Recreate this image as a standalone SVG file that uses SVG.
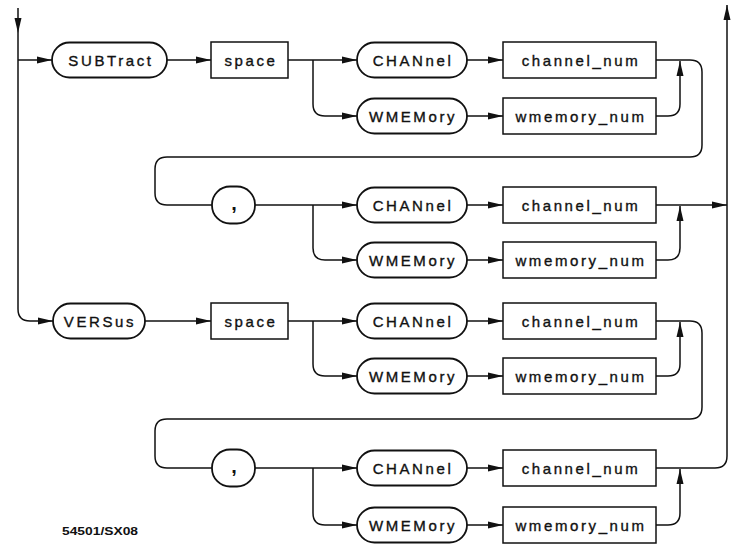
<svg xmlns="http://www.w3.org/2000/svg" width="739" height="544" viewBox="0 0 739 544">
<style>
.bg{fill:#fff}
.ov{fill:#fff;stroke:#111;stroke-width:1.8}
.bx{fill:#fff;stroke:#111;stroke-width:1.5}
.t{font-family:"Liberation Sans",Arial,sans-serif;font-size:15px;letter-spacing:2.6px;fill:#111;stroke:#111;stroke-width:0.35;text-anchor:middle;dominant-baseline:central}
.cm{font-family:"Liberation Sans",Arial,sans-serif;font-size:20px;font-weight:bold;fill:#111;text-anchor:middle}
.c{fill:none;stroke:#111;stroke-width:1.5}
.lbl{font-family:"Liberation Sans",Arial,sans-serif;font-size:11px;font-weight:bold;fill:#111}
</style>
<defs>
<marker id="ah" markerWidth="15" markerHeight="9" refX="15" refY="4.5" orient="auto" markerUnits="userSpaceOnUse">
<path d="M0,1 L15,4.5 L0,8 Z" fill="#111"/>
</marker>
</defs>
<rect class="bg" x="0" y="0" width="739" height="544"/>

<g id="connectors">
<path class="c" d="M18,8 V33" marker-end="url(#ah)"/>
<path class="c" d="M18,33 V309 Q18,321 30,321 H53" marker-end="url(#ah)"/>
<path class="c" d="M18,60 H52" marker-end="url(#ah)"/>
<!-- row 1 -->
<path class="c" d="M167,60 H211" marker-end="url(#ah)"/>
<path class="c" d="M288,60 H357" marker-end="url(#ah)"/>
<path class="c" d="M313,60 V104 Q313,116 325,116 H357" marker-end="url(#ah)"/>
<path class="c" d="M467,60 H503" marker-end="url(#ah)"/>
<path class="c" d="M467,116 H503" marker-end="url(#ah)"/>
<path class="c" d="M656,116 H668 Q680,116 680,104 V61" marker-end="url(#ah)"/>
<path class="c" d="M656,60 H690 Q702,60 702,72 V145 Q702,157 690,157 H167 Q155,157 155,169 V193 Q155,205 167,205 H212"/>
<!-- row 2 -->
<path class="c" d="M255,205 H357" marker-end="url(#ah)"/>
<path class="c" d="M313,205 V248 Q313,260 325,260 H357" marker-end="url(#ah)"/>
<path class="c" d="M467,205 H503" marker-end="url(#ah)"/>
<path class="c" d="M467,260 H503" marker-end="url(#ah)"/>
<path class="c" d="M656,260 H668 Q680,260 680,248 V206" marker-end="url(#ah)"/>
<path class="c" d="M656,205 H727" marker-end="url(#ah)"/>
<!-- row 3 -->
<path class="c" d="M145,321 H211" marker-end="url(#ah)"/>
<path class="c" d="M288,321 H357" marker-end="url(#ah)"/>
<path class="c" d="M313,321 V364 Q313,376 325,376 H357" marker-end="url(#ah)"/>
<path class="c" d="M467,321 H503" marker-end="url(#ah)"/>
<path class="c" d="M467,376 H503" marker-end="url(#ah)"/>
<path class="c" d="M656,376 H668 Q680,376 680,364 V322" marker-end="url(#ah)"/>
<path class="c" d="M656,321 H690 Q702,321 702,333 V407 Q702,419 690,419 H167 Q155,419 155,431 V456 Q155,468 167,468 H212"/>
<!-- row 4 -->
<path class="c" d="M255,468 H357" marker-end="url(#ah)"/>
<path class="c" d="M313,468 V513 Q313,525 325,525 H357" marker-end="url(#ah)"/>
<path class="c" d="M467,468 H503" marker-end="url(#ah)"/>
<path class="c" d="M467,525 H503" marker-end="url(#ah)"/>
<path class="c" d="M656,525 H668 Q680,525 680,513 V469" marker-end="url(#ah)"/>
<path class="c" d="M656,468 H715 Q727,468 727,456 V5" marker-end="url(#ah)"/>
</g>

<g id="n-subtract"><rect class="ov" x="52" y="42.5" width="115" height="35" rx="17.5"/><text class="t" x="111" y="60">SUBTract</text></g>
<g id="n-space1"><rect class="bx" x="211" y="42" width="77" height="36"/><text class="t" x="251" y="60">space</text></g>
<g id="n-chan1"><rect class="ov" x="357" y="42.5" width="110" height="35" rx="17.5"/><text class="t" x="413" y="60">CHANnel</text></g>
<g id="n-chnum1"><rect class="bx" x="503" y="42" width="153" height="36"/><text class="t" x="581" y="60">channel_num</text></g>
<g id="n-wmem1"><rect class="ov" x="357" y="98.5" width="110" height="35" rx="17.5"/><text class="t" x="413" y="116">WMEMory</text></g>
<g id="n-wmnum1"><rect class="bx" x="503" y="98" width="153" height="36"/><text class="t" x="581" y="116">wmemory_num</text></g>

<g id="n-comma1"><rect class="ov" x="212" y="186.5" width="43" height="37" rx="18"/><text class="cm" x="234" y="210">,</text></g>
<g id="n-chan2"><rect class="ov" x="357" y="187.5" width="110" height="35" rx="17.5"/><text class="t" x="413" y="205">CHANnel</text></g>
<g id="n-chnum2"><rect class="bx" x="503" y="187" width="153" height="36"/><text class="t" x="581" y="205">channel_num</text></g>
<g id="n-wmem2"><rect class="ov" x="357" y="242.5" width="110" height="35" rx="17.5"/><text class="t" x="413" y="260">WMEMory</text></g>
<g id="n-wmnum2"><rect class="bx" x="503" y="242" width="153" height="36"/><text class="t" x="581" y="260">wmemory_num</text></g>

<g id="n-versus"><rect class="ov" x="53" y="303.5" width="92" height="35" rx="17.5"/><text class="t" x="100" y="321">VERSus</text></g>
<g id="n-space2"><rect class="bx" x="211" y="303" width="77" height="36"/><text class="t" x="251" y="321">space</text></g>
<g id="n-chan3"><rect class="ov" x="357" y="303.5" width="110" height="35" rx="17.5"/><text class="t" x="413" y="321">CHANnel</text></g>
<g id="n-chnum3"><rect class="bx" x="503" y="303" width="153" height="36"/><text class="t" x="581" y="321">channel_num</text></g>
<g id="n-wmem3"><rect class="ov" x="357" y="358.5" width="110" height="35" rx="17.5"/><text class="t" x="413" y="376">WMEMory</text></g>
<g id="n-wmnum3"><rect class="bx" x="503" y="358" width="153" height="36"/><text class="t" x="581" y="376">wmemory_num</text></g>

<g id="n-comma2"><rect class="ov" x="212" y="449.5" width="43" height="37" rx="18"/><text class="cm" x="234" y="473">,</text></g>
<g id="n-chan4"><rect class="ov" x="357" y="450.5" width="110" height="35" rx="17.5"/><text class="t" x="413" y="468">CHANnel</text></g>
<g id="n-chnum4"><rect class="bx" x="503" y="450" width="153" height="36"/><text class="t" x="581" y="468">channel_num</text></g>
<g id="n-wmem4"><rect class="ov" x="357" y="507.5" width="110" height="35" rx="17.5"/><text class="t" x="413" y="525">WMEMory</text></g>
<g id="n-wmnum4"><rect class="bx" x="503" y="507" width="153" height="36"/><text class="t" x="581" y="525">wmemory_num</text></g>

<text class="lbl" x="62" y="535" textLength="76" lengthAdjust="spacingAndGlyphs">54501/SX08</text>
</svg>
